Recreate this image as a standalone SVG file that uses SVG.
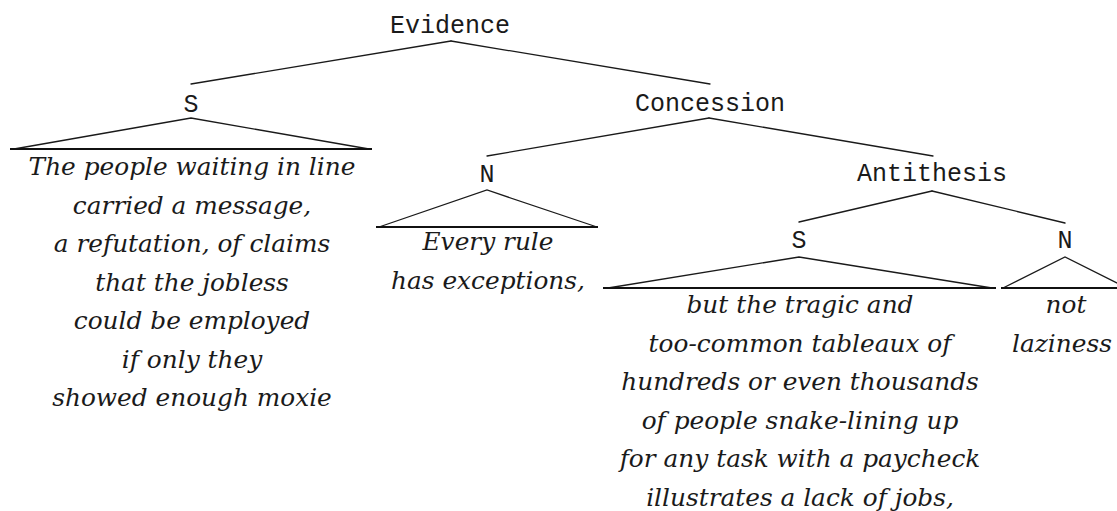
<svg xmlns="http://www.w3.org/2000/svg" width="1117" height="511" viewBox="0 0 1117 511">
  <style>
    .lbl { font-family: "Liberation Mono", "DejaVu Sans Mono", monospace; font-size: 25px; fill: #1a1a1a; text-anchor: middle; }
    .leaf { font-family: "DejaVu Serif", "Liberation Serif", serif; font-style: italic; font-size: 24.8px; fill: #1a1a1a; text-anchor: middle; }
    .edge { stroke: #1a1a1a; stroke-width: 1.3; fill: none; stroke-linecap: round; }
    .tri { stroke: #1a1a1a; stroke-width: 1.3; fill: none; stroke-linejoin: miter; }
    .base { stroke: #111; stroke-width: 2.2; }
  </style>
  <rect width="1117" height="511" fill="#ffffff"/>

  <!-- tree edges between relation nodes and their children -->
  <g id="connectors">
    <line class="edge" x1="451" y1="41" x2="191" y2="84"/>
    <line class="edge" x1="451" y1="41" x2="710" y2="84"/>
    <line class="edge" x1="709" y1="118" x2="487" y2="156"/>
    <line class="edge" x1="709" y1="118" x2="933" y2="156"/>
    <line class="edge" x1="932" y1="191" x2="799" y2="222"/>
    <line class="edge" x1="932" y1="191" x2="1065" y2="223"/>
  </g>

  <g id="evidence">
    <text class="lbl" x="450" y="33">Evidence</text>
  </g>

  <g id="concession">
    <text class="lbl" x="710" y="111">Concession</text>
  </g>

  <g id="antithesis">
    <text class="lbl" x="932" y="181">Antithesis</text>
  </g>

  <!-- leaf: satellite of Evidence -->
  <g id="leaf-s1">
    <text class="lbl" x="191" y="112">S</text>
    <polyline class="tri" points="14,149 191,118 369,149"/>
    <line class="base" x1="10" y1="149" x2="372" y2="149"/>
    <text class="leaf" x="192" y="175">The people waiting in line</text>
    <text class="leaf" x="192" y="213.5">carried a message,</text>
    <text class="leaf" x="192" y="252">a refutation, of claims</text>
    <text class="leaf" x="192" y="290.5">that the jobless</text>
    <text class="leaf" x="192" y="329">could be employed</text>
    <text class="leaf" x="192" y="367.5">if only they</text>
    <text class="leaf" x="192" y="406">showed enough moxie</text>
  </g>

  <!-- leaf: nucleus of Concession -->
  <g id="leaf-n1">
    <text class="lbl" x="487" y="182">N</text>
    <polyline class="tri" points="379,227 487,190 597,227"/>
    <line class="base" x1="376" y1="227" x2="598" y2="227"/>
    <text class="leaf" x="488" y="250">Every rule</text>
    <text class="leaf" x="488" y="288.5">has exceptions,</text>
  </g>

  <!-- leaf: satellite of Antithesis -->
  <g id="leaf-s2">
    <text class="lbl" x="799" y="248">S</text>
    <polyline class="tri" points="608,288 799,257 992,288"/>
    <line class="base" x1="603" y1="288" x2="996" y2="288"/>
    <text class="leaf" x="800" y="313">but the tragic and</text>
    <text class="leaf" x="800" y="351.5">too-common tableaux of</text>
    <text class="leaf" x="800" y="390">hundreds or even thousands</text>
    <text class="leaf" x="800" y="428.5">of people snake-lining up</text>
    <text class="leaf" x="800" y="467">for any task with a paycheck</text>
    <text class="leaf" x="800" y="505.5">illustrates a lack of jobs,</text>
  </g>

  <!-- leaf: nucleus of Antithesis -->
  <g id="leaf-n2">
    <text class="lbl" x="1065" y="248">N</text>
    <polyline class="tri" points="1003,288 1065,257 1127,288"/>
    <line class="base" x1="1001" y1="288" x2="1117" y2="288"/>
    <text class="leaf" x="1066" y="313">not</text>
    <text class="leaf" x="1062" y="351.5">laziness</text>
  </g>
</svg>
